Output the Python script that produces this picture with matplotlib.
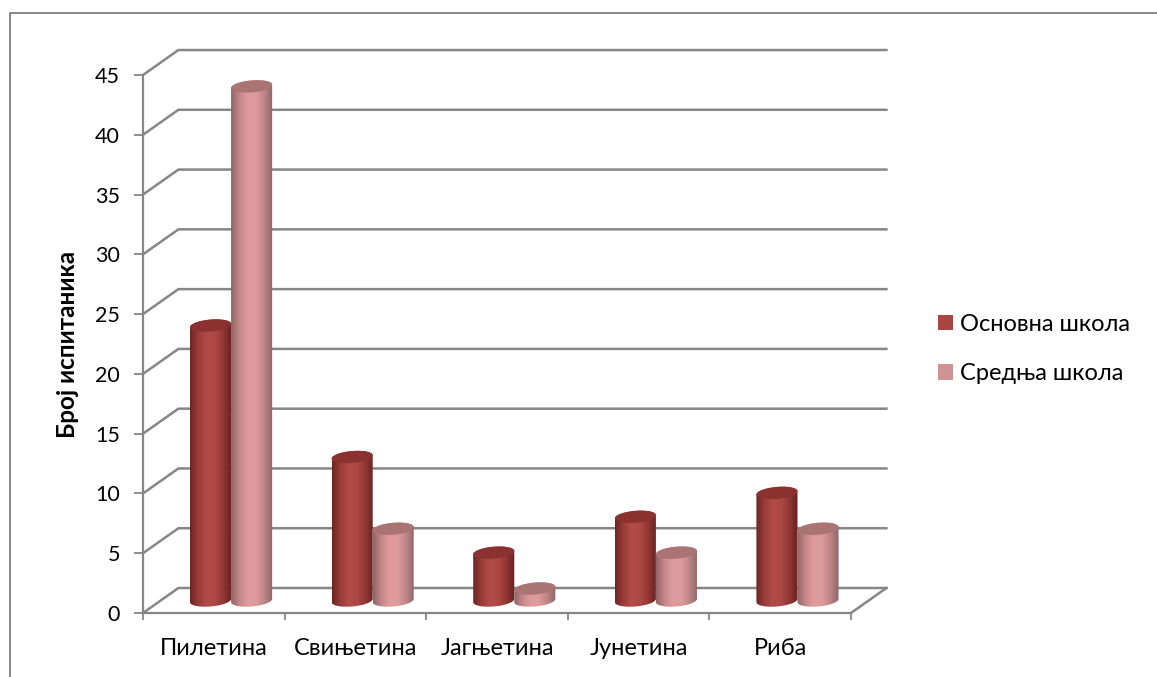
import matplotlib
matplotlib.use("Agg")
import matplotlib.pyplot as plt
import numpy as np
from matplotlib.colors import LinearSegmentedColormap
from matplotlib.lines import Line2D
from matplotlib.patches import Patch, PathPatch
from matplotlib.path import Path

plt.rcParams['font.family'] = ['Lato', 'Noto Sans', 'DejaVu Sans']

categories = ["Пилетина", "Свињетина", "Јагњетина", "Јунетина", "Риба"]
osnovna = [23, 12, 4, 7, 9]
srednja = [43, 6, 1, 4, 6]
series_names = ["Основна школа", "Средња школа"]
y_ticks = [0, 5, 10, 15, 20, 25, 30, 35, 40, 45]

GREY = "#868686"
# oblique offset of the back wall, in data units
DX, DY = 0.25, 2.09
# cylinder shape, in data units
A, B, TILT = 0.145, 0.5, 0.14

dark_cmap = LinearSegmentedColormap.from_list(
    "dark", ["#6b2523", "#9a3c39", "#b24c49", "#ad4845", "#8f3633", "#642321"])
light_cmap = LinearSegmentedColormap.from_list(
    "light", ["#8f6465", "#c58788", "#e09c9d", "#dd9a9b", "#bd8485", "#8d6566"])
dark_top = "#8b3230"
light_top = "#aa7374"


def ellipse(cx, cy, t):
    return cx + A * np.cos(t), cy + B * np.sin(t) + TILT * np.cos(t)


def cylinder(ax, cx, value, cmap, top_color):
    # walk the lower half of the base, then back over the upper half of the top
    x1, y1 = ellipse(cx, DY / 2, np.linspace(np.pi, 2 * np.pi, 60))
    x2, y2 = ellipse(cx, DY / 2 + value, np.linspace(0, np.pi, 60))
    body = Path(np.column_stack([np.r_[x1, x2], np.r_[y1, y2]]))
    grad = np.linspace(0, 1, 256).reshape(1, -1)
    im = ax.imshow(grad, cmap=cmap, aspect="auto", zorder=3, interpolation="bilinear",
                   extent=(cx - A, cx + A, DY / 2 - 2, DY / 2 + value + 2))
    im.set_clip_path(body, ax.transData)
    x3, y3 = ellipse(cx, DY / 2 + value, np.linspace(0, 2 * np.pi, 120))
    ax.add_patch(PathPatch(Path(np.column_stack([x3, y3])), facecolor=top_color,
                           edgecolor="none", zorder=4, clip_on=False))


fig = plt.figure(figsize=(11.57, 6.77), dpi=100)
ax = fig.add_axes([143 / 1157, 64 / 677, 708 / 1157, 538 / 677])

# back wall and the oblique grid lines
for v in y_ticks:
    ax.plot([0, DX, 5 + DX], [v, v + DY, v + DY], color=GREY, lw=1.8, zorder=1, clip_on=False)
ax.plot([5, 5 + DX], [0, DY], color=GREY, lw=1.8, zorder=1, clip_on=False)

for i in range(len(categories)):
    cx = i + 0.5 + DX / 2 - 0.003
    cylinder(ax, cx - A, osnovna[i], dark_cmap, dark_top)
    cylinder(ax, cx + A, srednja[i], light_cmap, light_top)

ax.set_xlim(0, 5)
ax.set_ylim(0, 45)
ax.set_facecolor("none")
for side in ["top", "right"]:
    ax.spines[side].set_visible(False)
for side in ["left", "bottom"]:
    ax.spines[side].set_color(GREY)
    ax.spines[side].set_linewidth(1.6)

ax.set_xticks(np.arange(6))
ax.set_xticklabels([])
ax.set_xticks(np.arange(5) + 0.5, minor=True)
ax.set_xticklabels(categories, minor=True, fontsize=17)
ax.tick_params(axis="x", which="major", length=5, width=1.3, color=GREY)
ax.tick_params(axis="x", which="minor", length=0, pad=18)
ax.set_yticks(y_ticks)
ax.tick_params(axis="y", length=6.5, width=1.3, color=GREY, labelsize=15.5, pad=10)

ax.set_ylabel("Број испитаника", fontsize=17.5, fontweight="bold")
ax.yaxis.set_label_coords(-0.091, 0.5)

handles = [Patch(facecolor="#a94543", edgecolor="none"), Patch(facecolor="#d09394", edgecolor="none")]
fig.legend(handles, series_names, loc="center left", bbox_to_anchor=(931 / 1157, 1 - 349 / 677),
           frameon=False, fontsize=17, handlelength=0.64, handleheight=0.64,
           handletextpad=0.3, labelspacing=1.2, borderpad=0.3, borderaxespad=0)

# outer chart border, cut off by the right and bottom edges
fig.add_artist(Line2D([10 / 1157, 10 / 1157, 1], [0, 1 - 12.5 / 677, 1 - 12.5 / 677],
                      transform=fig.transFigure, color=GREY, lw=1.4))

fig.savefig("out.png", dpi=100)
